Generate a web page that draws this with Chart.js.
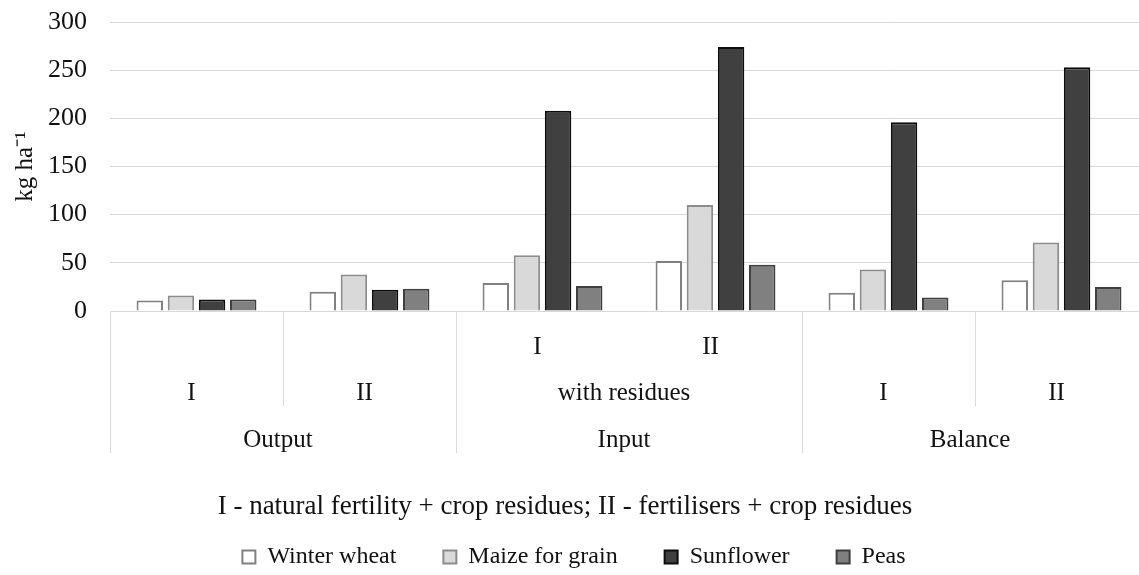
<!DOCTYPE html>
<html>
<head>
<meta charset="utf-8">
<script src="https://cdn.jsdelivr.net/npm/chart.js@4.4.1/dist/chart.umd.min.js"></script>
<style>
  html, body { margin: 0; padding: 0; background: #fff; overflow: hidden; }
  #wrap { width: 1150px; height: 575px; }
</style>
</head>
<body>
<div id="wrap"><canvas id="nitrogenChart"></canvas></div>
<script>
// values, kg ha-1
const groups = ['Output I', 'Output II', 'Input I', 'Input II', 'Balance I', 'Balance II'];
const winterWheat = [11, 20, 29, 52, 19, 32];
const maizeGrain = [16, 38, 58, 110, 43, 71];
const sunflower = [12, 22, 208, 274, 196, 253];
const peas = [12, 23, 26, 48, 14, 25];

// category labels, one array per level: [text, first index, last index + 1]
const level1 = [['I', 2, 3], ['II', 3, 4]];
const level2 = [['I', 0, 1], ['II', 1, 2], ['with residues', 2, 4], ['I', 4, 5], ['II', 5, 6]];
const level3 = [['Output', 0, 2], ['Input', 2, 4], ['Balance', 4, 6]];
const longSeps = [0, 2, 4, 6];
const shortSeps = [1, 5];

const caption = 'I - natural fertility + crop residues; II - fertilisers + crop residues';
const serif = '"Liberation Serif", "Times New Roman", serif';
const textColor = '#111111';

const multiLevel = {
  id: 'multiLevel',
  afterDraw(chart) {
    const ctx = chart.ctx;
    const x = chart.scales.x;
    const bottom = chart.chartArea.bottom;
    const edge = (i) => x.getPixelForValue(i - 0.5);

    ctx.save();
    ctx.strokeStyle = '#d9d9d9';
    ctx.lineWidth = 1;
    longSeps.forEach((i) => {
      ctx.beginPath();
      ctx.moveTo(Math.round(edge(i)) + 0.5, bottom);
      ctx.lineTo(Math.round(edge(i)) + 0.5, bottom + 142);
      ctx.stroke();
    });
    shortSeps.forEach((i) => {
      ctx.beginPath();
      ctx.moveTo(Math.round(edge(i)) + 0.5, bottom);
      ctx.lineTo(Math.round(edge(i)) + 0.5, bottom + 95);
      ctx.stroke();
    });

    ctx.fillStyle = textColor;
    ctx.font = '25px ' + serif;
    ctx.textAlign = 'center';
    ctx.textBaseline = 'middle';
    const row = (items, dy) => {
      items.forEach(([txt, a, b]) => {
        ctx.fillText(txt, (edge(a) + edge(b)) / 2 - 5, bottom + dy);
      });
    };
    row(level1, 36);
    row(level2, 82);
    row(level3, 129);

    ctx.font = '27px ' + serif;
    ctx.fillText(caption, 565, 507);
    ctx.restore();
  }
};

new Chart(document.getElementById('nitrogenChart'), {
  type: 'bar',
  data: {
    labels: groups,
    datasets: [
      { label: 'Winter wheat', data: winterWheat, backgroundColor: '#ffffff', borderColor: '#808080', borderWidth: 2 },
      { label: 'Maize for grain', data: maizeGrain, backgroundColor: '#d9d9d9', borderColor: '#8c8c8c', borderWidth: 2 },
      { label: 'Sunflower', data: sunflower, backgroundColor: '#404040', borderColor: '#0d0d0d', borderWidth: 2 },
      { label: 'Peas', data: peas, backgroundColor: '#808080', borderColor: '#3f3f3f', borderWidth: 2 }
    ]
  },
  options: {
    responsive: true,
    maintainAspectRatio: false,
    animation: false,
    categoryPercentage: 0.72,
    barPercentage: 0.85,
    layout: { padding: { top: 22, right: 2, left: 0, bottom: -4 } },
    plugins: {
      tooltip: { enabled: false },
      legend: {
        position: 'bottom',
        labels: {
          color: textColor,
          font: { family: serif, size: 24 },
          boxWidth: 13,
          boxHeight: 13,
          padding: 47
        }
      }
    },
    scales: {
      x: {
        grid: { display: false },
        border: { display: false },
        ticks: { display: false },
        afterFit: (scale) => { scale.height = 187; }
      },
      y: {
        min: 0,
        max: 300,
        ticks: {
          stepSize: 50,
          color: textColor,
          font: { family: serif, size: 26 },
          padding: 23
        },
        grid: { color: '#d9d9d9', lineWidth: 1, drawTicks: false },
        border: { display: false },
        title: {
          display: true,
          text: 'kg ha\u207B\u00B9',
          color: textColor,
          font: { family: serif, size: 25 },
          padding: { top: 10, bottom: 0 }
        },
        afterFit: (scale) => {
          scale.width = 110;
          scale.paddingTop = 0;
          scale.paddingBottom = 0;
        }
      }
    }
  },
  plugins: [multiLevel]
});
</script>
</body>
</html>
